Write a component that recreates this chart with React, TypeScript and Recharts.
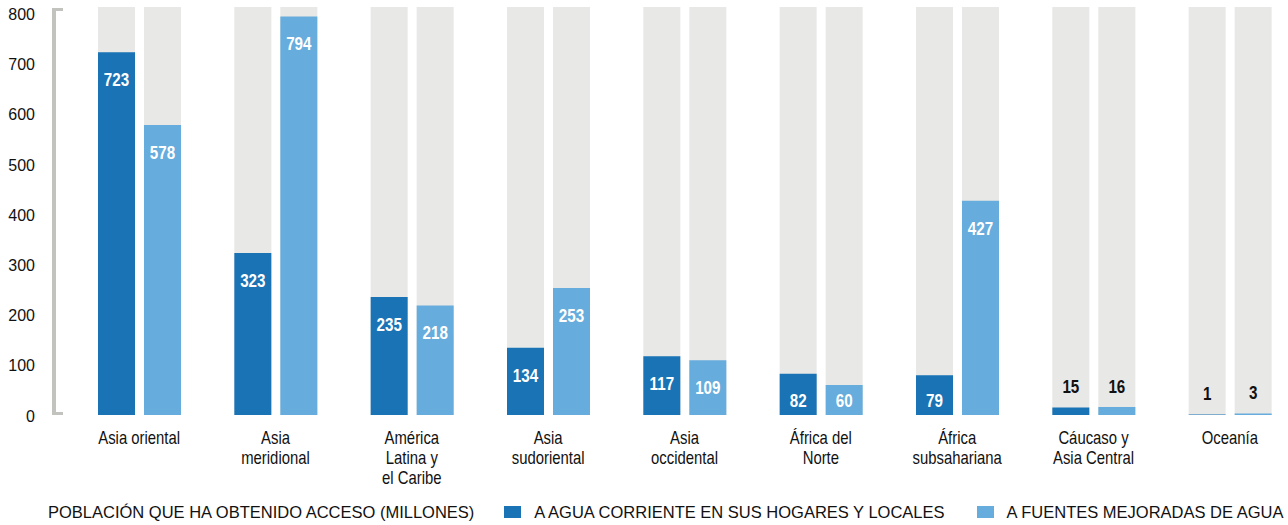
import React from "react";
import { BarChart, Bar, XAxis, YAxis, LabelList } from "recharts";

const categories = [
  "Asia oriental",
  "Asia\nmeridional",
  "América\nLatina y\nel Caribe",
  "Asia\nsudoriental",
  "Asia\noccidental",
  "África del\nNorte",
  "África\nsubsahariana",
  "Cáucaso y\nAsia Central",
  "Oceanía",
];
const pipedWater = [723, 323, 235, 134, 117, 82, 79, 15, 1];
const improvedSources = [578, 794, 218, 253, 109, 60, 427, 16, 3];
const yTicks = [0, 100, 200, 300, 400, 500, 600, 700, 800];
const legendTitle = "POBLACIÓN QUE HA OBTENIDO ACCESO (MILLONES)";
const seriesNames = ["A AGUA CORRIENTE EN SUS HOGARES Y LOCALES", "A FUENTES MEJORADAS DE AGUA"];

const data = categories.map((c, i) => ({
  name: c,
  piped: pipedWater[i],
  improved: improvedSources[i],
}));

const DARK = "#1973b4";
const LIGHT = "#66acdc";
const BG = "#e8e8e6";
const REG = "'Liberation Sans', Arial, Helvetica, sans-serif";

const ValueLabel = (props: any) => {
  const { x, y, width, height, value } = props;
  const cx = x + width / 2;
  const small = value < 30;
  const ly = small ? y - 21 : Math.min(y + 27, y + height - 15);
  return (
    <text
      transform={`translate(${cx},${ly}) scale(0.8,1)`}
      x={0}
      y={0}
      dy="0.36em"
      textAnchor="middle"
      fill={small ? "#111" : "#fff"}
      fontFamily={REG}
      fontWeight="bold"
      fontSize={19}
    >
      {value}
    </text>
  );
};

const XTick = (props: any) => {
  const { x, y, payload } = props;
  const lines = String(payload.value).split("\n");
  return (
    <g>
      {lines.map((l, i) => (
        <text
          key={i}
          transform={`translate(${x},${y + 15 + i * 20}) scale(0.85,1)`}
          x={0}
          y={0}
          dy="0.35em"
          textAnchor="middle"
          fill="#111"
          fontFamily={REG}
          fontSize={17.5}
        >
          {l}
        </text>
      ))}
    </g>
  );
};

const YTick = (props: any) => {
  const { y, payload } = props;
  return (
    <text x={35} y={y + 1} dy="0.35em" textAnchor="end" fill="#111" fontFamily={REG} fontSize={16}>
      {payload.value}
    </text>
  );
};

export default function App() {
  return (
    <div style={{ position: "absolute", left: 0, top: 0, width: 1288, height: 525, overflow: "hidden", background: "#fff" }}>
      <BarChart
        width={1298}
        height={525}
        data={data}
        margin={{ top: 7, right: 0, left: 0, bottom: 0 }}
        barSize={37}
        barGap={9}
      >
        <XAxis dataKey="name" axisLine={false} tickLine={false} height={110} interval={0} tick={<XTick />} />
        <YAxis
          width={71}
          domain={[0, 813]}
          ticks={yTicks}
          axisLine={false}
          tickLine={false}
          tick={<YTick />}
          allowDataOverflow
        />
        <Bar dataKey="piped" fill={DARK} background={{ fill: BG }} isAnimationActive={false}>
          <LabelList dataKey="piped" content={<ValueLabel />} />
        </Bar>
        <Bar dataKey="improved" fill={LIGHT} background={{ fill: BG }} isAnimationActive={false}>
          <LabelList dataKey="improved" content={<ValueLabel />} />
        </Bar>
      </BarChart>
      <div
        style={{
          position: "absolute",
          left: 52,
          top: 8,
          width: 7,
          height: 401,
          borderLeft: "4px solid #c2c2be",
          borderTop: "3px solid #c2c2be",
          borderBottom: "3px solid #c2c2be",
        }}
      />
      <div
        style={{
          position: "absolute",
          left: 48,
          top: 502,
          height: 20,
          display: "flex",
          alignItems: "center",
          fontFamily: REG,
          fontSize: 16.5,
          color: "#111",
          whiteSpace: "nowrap",
        }}
      >
        <span>{legendTitle}</span>
        <span style={{ display: "inline-block", width: 17, height: 12, background: DARK, marginLeft: 30, marginRight: 13 }} />
        <span>{seriesNames[0]}</span>
        <span style={{ display: "inline-block", width: 17, height: 12, background: LIGHT, marginLeft: 32, marginRight: 13 }} />
        <span>{seriesNames[1]}</span>
      </div>
    </div>
  );
}
